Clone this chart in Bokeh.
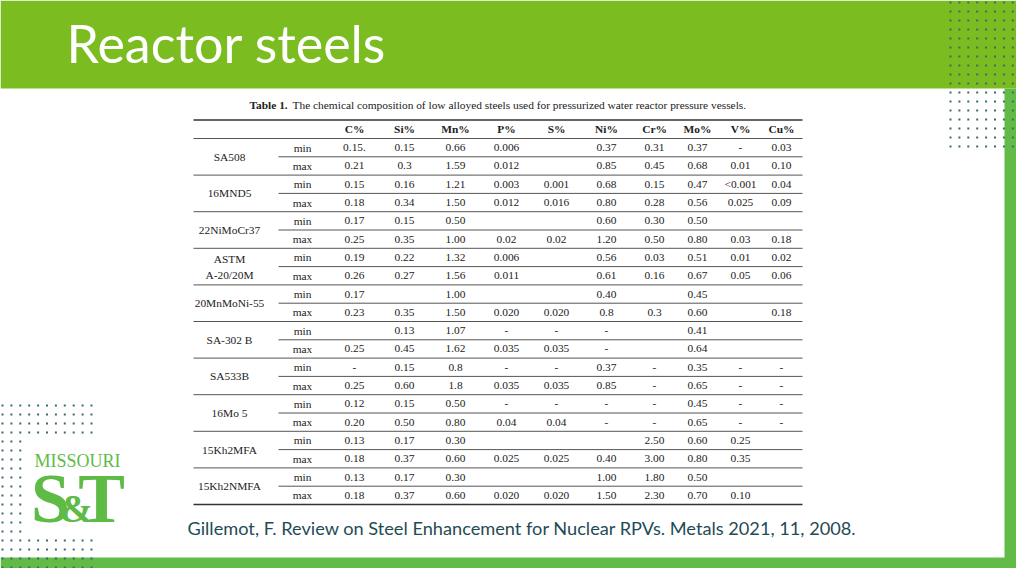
from bokeh.plotting import figure
from bokeh.models import Range1d
from bokeh.core.properties import value
from bokeh.embed import file_html
from bokeh.resources import INLINE

# ---------------- data ----------------
slide_title = "Reactor steels"
table_caption_bold = "Table 1."
table_caption = "The chemical composition of low alloyed steels used for pressurized water reactor pressure vessels."
citation = "Gillemot, F. Review on Steel Enhancement for Nuclear RPVs. Metals 2021, 11, 2008."

columns = ["C%", "Si%", "Mn%", "P%", "S%", "Ni%", "Cr%", "Mo%", "V%", "Cu%"]
steels = ["SA508", "16MND5", "22NiMoCr37", "ASTM\nA-20/20M", "20MnMoNi-55",
          "SA-302 B", "SA533B", "16Mo 5", "15Kh2MFA", "15Kh2NMFA"]
bounds = ["min", "max"]

SA508_min = ["0.15.", "0.15", "0.66", "0.006", "", "0.37", "0.31", "0.37", "-", "0.03"]
SA508_max = ["0.21", "0.3", "1.59", "0.012", "", "0.85", "0.45", "0.68", "0.01", "0.10"]
MND5_min = ["0.15", "0.16", "1.21", "0.003", "0.001", "0.68", "0.15", "0.47", "<0.001", "0.04"]
MND5_max = ["0.18", "0.34", "1.50", "0.012", "0.016", "0.80", "0.28", "0.56", "0.025", "0.09"]
NiMoCr37_min = ["0.17", "0.15", "0.50", "", "", "0.60", "0.30", "0.50", "", ""]
NiMoCr37_max = ["0.25", "0.35", "1.00", "0.02", "0.02", "1.20", "0.50", "0.80", "0.03", "0.18"]
ASTM_min = ["0.19", "0.22", "1.32", "0.006", "", "0.56", "0.03", "0.51", "0.01", "0.02"]
ASTM_max = ["0.26", "0.27", "1.56", "0.011", "", "0.61", "0.16", "0.67", "0.05", "0.06"]
MnMoNi55_min = ["0.17", "", "1.00", "", "", "0.40", "", "0.45", "", ""]
MnMoNi55_max = ["0.23", "0.35", "1.50", "0.020", "0.020", "0.8", "0.3", "0.60", "", "0.18"]
SA302B_min = ["", "0.13", "1.07", "-", "-", "-", "", "0.41", "", ""]
SA302B_max = ["0.25", "0.45", "1.62", "0.035", "0.035", "-", "", "0.64", "", ""]
SA533B_min = ["-", "0.15", "0.8", "-", "-", "0.37", "-", "0.35", "-", "-"]
SA533B_max = ["0.25", "0.60", "1.8", "0.035", "0.035", "0.85", "-", "0.65", "-", "-"]
Mo5_min = ["0.12", "0.15", "0.50", "-", "-", "-", "-", "0.45", "-", "-"]
Mo5_max = ["0.20", "0.50", "0.80", "0.04", "0.04", "-", "-", "0.65", "-", "-"]
Kh2MFA_min = ["0.13", "0.17", "0.30", "", "", "", "2.50", "0.60", "0.25", ""]
Kh2MFA_max = ["0.18", "0.37", "0.60", "0.025", "0.025", "0.40", "3.00", "0.80", "0.35", ""]
Kh2NMFA_min = ["0.13", "0.17", "0.30", "", "", "1.00", "1.80", "0.50", "", ""]
Kh2NMFA_max = ["0.18", "0.37", "0.60", "0.020", "0.020", "1.50", "2.30", "0.70", "0.10", ""]

rows = [SA508_min, SA508_max, MND5_min, MND5_max, NiMoCr37_min, NiMoCr37_max,
        ASTM_min, ASTM_max, MnMoNi55_min, MnMoNi55_max, SA302B_min, SA302B_max,
        SA533B_min, SA533B_max, Mo5_min, Mo5_max, Kh2MFA_min, Kh2MFA_max,
        Kh2NMFA_min, Kh2NMFA_max]

# ---------------- layout / style ----------------
W, H = 1024, 576
FW, FH = 1016, 568
TOP_GREEN = "#7BBD20"
SIDE_GREEN = "#62BB46"
DOT = "#3C6B6E"
INK = "#222222"
SERIF = value("Liberation Serif")
SANS = value("Lato")
TS = "11.4px"

p = figure(width=FW, height=FH, x_range=Range1d(0, FW), y_range=Range1d(FH, 0),
           output_backend="svg", toolbar_location=None, min_border=0,
           x_axis_type=None, y_axis_type=None)
p.grid.visible = False
p.outline_line_color = None
p.background_fill_color = "white"
p.border_fill_color = "white"

# bands
p.quad(left=[0], right=[W], top=[0], bottom=[88], fill_color=TOP_GREEN, line_color=None)
p.quad(left=[1004], right=[W], top=[88], bottom=[H], fill_color=SIDE_GREEN, line_color=None)
p.quad(left=[0], right=[W], top=[557], bottom=[H], fill_color=SIDE_GREEN, line_color=None)

# dot patterns
dx, dy = [], []
for r in range(17):
    for c in range(9):
        dx.append(950 + 8.9 * c)
        dy.append(2 + 9 * r)
for r in range(20):
    y = 405 + 9 * r
    ncols = 11 if (r < 4 or r >= 15) else 3
    for c in range(ncols):
        dx.append(2 + 8.9 * c)
        dy.append(y)
p.scatter(dx, dy, marker="square", size=2, fill_color=DOT, line_color=None)

# slide title
p.text(x=[66], y=[42], text=[slide_title], text_color="white", text_font=SANS,
       text_font_size="52px", text_baseline="middle", text_align="left")

# logo
LOGO = "#5DBB46"
p.text(x=[77], y=[460], text=["MISSOURI"], text_color=LOGO, text_font=SERIF,
       text_font_size="18px", text_baseline="middle", text_align="center")
p.text(x=[50, 101], y=[498, 498], text=["S", "T"], text_color=LOGO, text_font=SERIF,
       text_font_size="70px", text_font_style="bold", text_baseline="middle", text_align="center")
p.text(x=[76], y=[508], text=["&"], text_color=LOGO, text_font=SERIF,
       text_font_size="40px", text_font_style="bold", text_baseline="middle", text_align="center")

# citation
p.text(x=[187], y=[527], text=[citation], text_color="#1F4B55", text_font=SANS,
       text_font_size="18.2px", text_baseline="middle", text_align="left")

# table
x_left, x_right = 193, 802
x_sub = 278
name_x = 229
bound_x = 302
col_x = [354, 404, 455, 506, 556, 606, 654, 697, 740, 781]
top_y = 119.5
head_y = 138
pitch = 18.3

p.text(x=[249], y=[104], text=[table_caption_bold], text_color=INK, text_font=SERIF,
       text_font_size=TS, text_font_style="bold", text_baseline="middle")
p.text(x=[292], y=[104], text=[table_caption], text_color=INK, text_font=SERIF,
       text_font_size=TS, text_baseline="middle")

p.text(x=col_x, y=[(top_y + head_y) / 2] * len(columns), text=columns, text_color=INK,
       text_font=SERIF, text_font_size=TS, text_font_style="bold",
       text_baseline="middle", text_align="center")

# horizontal rules
p.segment(x0=[x_left, x_left], x1=[x_right, x_right], y0=[top_y, head_y + pitch * 20],
          y1=[top_y, head_y + pitch * 20], line_color="#333333", line_width=1.6)
gx0, gx1, gy = [], [], []
for g in range(len(steels)):
    if g > 0:
        gx0.append(x_left); gx1.append(x_right); gy.append(head_y + 2 * g * pitch)
    gx0.append(x_sub); gx1.append(x_right); gy.append(head_y + (2 * g + 1) * pitch)
gx0.append(x_left); gx1.append(x_right); gy.append(head_y)
p.segment(x0=gx0, x1=gx1, y0=gy, y1=gy, line_color="#555555", line_width=1)

# steel names
nx, ny, nt = [], [], []
for g, name in enumerate(steels):
    yc = head_y + (2 * g + 1) * pitch
    parts = name.split("\n")
    if len(parts) == 1:
        nx.append(name_x); ny.append(yc); nt.append(name)
    else:
        nx += [name_x, name_x]; ny += [yc - 8, yc + 8]; nt += parts
p.text(x=nx, y=ny, text=nt, text_color=INK, text_font=SERIF, text_font_size=TS,
       text_baseline="middle", text_align="center")

# min / max labels and values
bx, by, bt = [], [], []
vx, vy, vt = [], [], []
for i, row in enumerate(rows):
    yc = head_y + (i + 0.5) * pitch
    bx.append(bound_x); by.append(yc); bt.append(bounds[i % 2])
    for j, v in enumerate(row):
        if v:
            vx.append(col_x[j]); vy.append(yc); vt.append(v)
p.text(x=bx, y=by, text=bt, text_color=INK, text_font=SERIF, text_font_size=TS,
       text_baseline="middle", text_align="center")
p.text(x=vx, y=vy, text=vt, text_color=INK, text_font=SERIF, text_font_size=TS,
       text_baseline="middle", text_align="center")

open("out.html", "w").write(file_html(p, INLINE))
